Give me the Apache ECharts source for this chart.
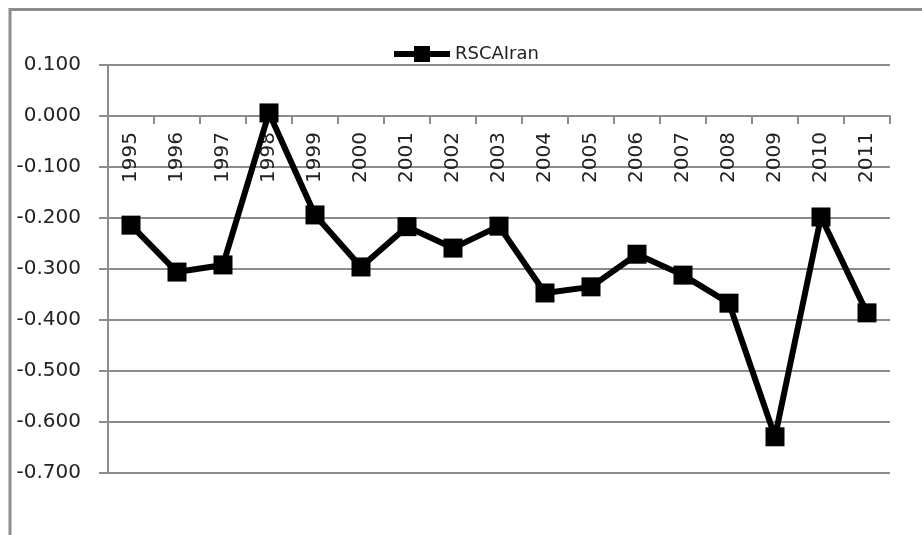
<!DOCTYPE html>
<html>
<head>
<meta charset="utf-8">
<script src="https://cdn.jsdelivr.net/npm/echarts@6/dist/echarts.min.js"></script>
<style>
  html, body { margin: 0; padding: 0; background: #fff; }
  #chart { width: 922px; height: 535px; }
</style>
</head>
<body>
<div id="chart"></div>
<script>
var years = ['1995', '1996', '1997', '1998', '1999', '2000', '2001', '2002', '2003',
  '2004', '2005', '2006', '2007', '2008', '2009', '2010', '2011'];
var rscaIran = [-0.214, -0.306, -0.292, 0.006, -0.194, -0.296, -0.217, -0.259, -0.216,
  -0.347, -0.335, -0.271, -0.312, -0.367, -0.629, -0.198, -0.386];

var chart = echarts.init(document.getElementById('chart'));
var gray = '#8c8c8c';
var gridBottom = 62;

chart.setOption({
  backgroundColor: '#fff',
  animation: false,
  graphic: [{
    type: 'rect',
    shape: { x: 10, y: 9.5, width: 1000, height: 1000 },
    style: { fill: 'none', stroke: gray, lineWidth: 3 },
    silent: true
  }],
  legend: {
    data: ['RSCAIran'],
    left: 386,
    top: 40,
    itemWidth: 56,
    itemHeight: 20,
    itemGap: 4,
    lineStyle: { width: 6 },
    textStyle: { fontFamily: 'DejaVu Sans', fontSize: 18, color: '#222' }
  },
  grid: { left: 108, right: 32, top: 65, bottom: gridBottom, outerBoundsMode: 'none', containLabel: false },
  xAxis: {
    type: 'category',
    data: years,
    boundaryGap: true,
    axisLine: { onZero: false, lineStyle: { color: gray, width: 2 } },
    axisTick: { show: true, inside: false, length: 8, lineStyle: { color: gray, width: 2 } },
    axisLabel: {
      interval: 0,
      rotate: 90,
      margin: 16,
      fontFamily: 'DejaVu Sans',
      fontSize: 20,
      color: '#222'
    },
    splitLine: { show: false }
  },
  yAxis: {
    type: 'value',
    min: -0.7,
    max: 0.1,
    interval: 0.1,
    axisLine: { show: true, lineStyle: { color: gray, width: 2 } },
    axisTick: { show: true, length: 9, lineStyle: { color: gray, width: 2 } },
    axisLabel: {
      margin: 27,
      fontFamily: 'DejaVu Sans',
      fontSize: 20,
      color: '#222',
      formatter: function (v) { return v.toFixed(3); }
    },
    splitLine: { show: true, lineStyle: { color: gray, width: 2 } }
  },
  series: [{
    name: 'RSCAIran',
    type: 'line',
    data: rscaIran,
    symbol: 'rect',
    symbolSize: 19,
    showAllSymbol: true,
    color: '#000',
    lineStyle: { color: '#000', width: 6 },
    itemStyle: { color: '#000' },
    z: 5
  }]
});

// move the category axis up to the zero line of the value axis
var zeroY = chart.convertToPixel({ yAxisIndex: 0 }, 0);
var bottomY = 535 - gridBottom;
chart.setOption({ xAxis: { offset: zeroY - bottomY } });
</script>
</body>
</html>
